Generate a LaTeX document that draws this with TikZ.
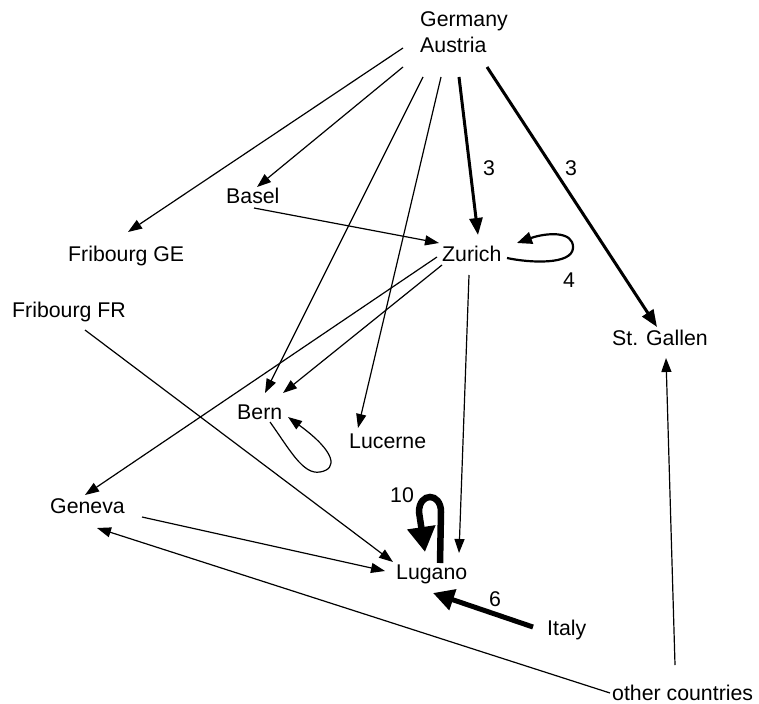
\documentclass[tikz,border=0pt]{standalone}
\usepackage{fontspec}
\setmainfont{Liberation Sans}
\usetikzlibrary{arrows.meta,calc}
\begin{document}
\begin{tikzpicture}[x=1pt,y=-1pt,
  city/.style={font=\fontsize{21.3}{26}\selectfont, inner sep=0pt, anchor=base west},
  weight/.style={font=\fontsize{21.3}{26}\selectfont, inner sep=0pt},
  link/.style={line width=1.2pt, -{Triangle[length=14pt,width=10pt]}},
  heavy/.style={line width=3pt, -{Triangle[length=17pt,width=13pt]}},
  loopline/.style={line width=2.2pt, -{Triangle[length=15pt,width=12pt]}},
  fat/.style={line width=5pt, -{Triangle[length=21pt,width=21pt]}},
  huge/.style={line width=6.5pt, -{Triangle[length=25pt,width=27pt]}}]
\useasboundingbox (0,0) rectangle (759,703);

% places
\node[city, anchor=north west, align=left] (ga) at (420,11.5) {Germany\\Austria};
\node[city] (basel) at (226,204) {Basel};
\node[city] (frge)  at (68,261)  {Fribourg GE};
\node[city] (zur)   at (442,261) {Zurich};
\node[city] (frfr)  at (12,317)  {Fribourg FR};
\node[city] (stg)   at (612,345) {St. Gallen};
\node[city] (bern)  at (237,419) {Bern};
\node[city] (luc)   at (349,448) {Lucerne};
\node[city] (gen)   at (50,513)  {Geneva};
\node[city] (lug)   at (396,579) {Lugano};
\node[city] (ita)   at (547,635) {Italy};
\node[city] (oth)   at (612,700) {other countries};

% flows out of Germany / Austria
\draw[link]  ($(ga.north west)+(-17,36.5)$) -- ($(frge.base west)+(60,-29)$);
\draw[link]  ($(ga.north west)+(-17,55.5)$) -- ($(basel.base west)+(31,-17)$);
\draw[link]  ($(ga.north west)+(3,65.5)$)   -- ($(bern.base west)+(28,-26)$);
\draw[link]  ($(ga.north west)+(21,65.5)$)  -- ($(luc.base west)+(9,-20)$);
\draw[heavy] ($(ga.north west)+(39,65.5)$)  -- ($(zur.base west)+(36,-26)$);
\draw[heavy] ($(ga.north west)+(67,55.5)$)  -- ($(stg.base west)+(45,-18)$);
\node[weight] (w1) at (489,168) {3};
\node[weight] (w2) at (571,168) {3};

% Basel and Zurich
\draw[link] ($(basel.base west)+(28,4)$) -- ($(zur.base west)+(-3,-18)$);
\draw[loopline] ($(zur.base west)+(65,-3)$) .. controls (530,263) and (572,265) .. (573,248)
  .. controls (574,230) and (545,233) .. ($(zur.base west)+(75,-18)$);
\node[weight] (w3) at (569,280) {4};
\draw[link] ($(zur.base west)+(0,4)$)   -- ($(bern.base west)+(46,-26)$);
\draw[link] ($(zur.base west)+(-5,-4)$) -- ($(gen.base west)+(35,-18)$);
\draw[link] ($(zur.base west)+(27,14)$) -- ($(lug.base west)+(63,-26)$);

% Bern self loop
\draw[link] ($(bern.base west)+(33,3)$) .. controls (290,450) and (303,475) .. (320,472)
  .. controls (338,469) and (336,452) .. ($(bern.base west)+(51,-2)$);

% into Lugano
\draw[link] ($(frfr.base west)+(73,13)$) -- ($(lug.base west)+(-3,-17)$);
\draw[link] ($(gen.base west)+(92,4)$)   -- ($(lug.base west)+(-11,-8)$);
\draw[huge] ($(lug.base west)+(44,-16)$) -- (441,512) .. controls (441,492) and (419,492) .. (419,512)
  -- ($(lug.base west)+(29,-27)$);
\node[weight] (w4) at (402,495) {10};
\draw[fat] ($(ita.base west)+(-14,-8)$) -- ($(lug.base west)+(37,14)$);
\node[weight] (w5) at (495,599) {6};

% other countries
\draw[link] ($(oth.base west)+(-2,-7)$) -- ($(gen.base west)+(47,15)$);
\draw[link] ($(oth.base west)+(63,-35)$) -- ($(stg.base west)+(54,13)$);
\end{tikzpicture}
\end{document}
